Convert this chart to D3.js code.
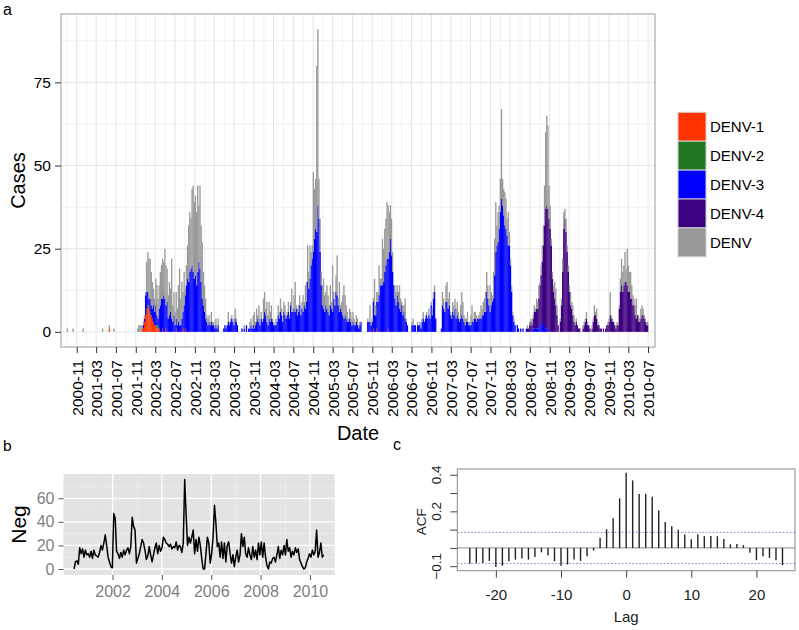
<!DOCTYPE html>
<html>
<head>
<meta charset="utf-8">
<script src="https://cdn.jsdelivr.net/npm/d3@7"></script>
<style>
  body { margin: 0; background: #fff; }
  svg { display: block; }
</style>
</head>
<body>
<div id="chart"></div>
<script>
// ---- panel a: weekly dengue cases by serotype ----
const firstWeek = "2000-09-04";
const totalCases = [
  1,0,0,0,0,1,0,0,0,0,  0,0,0,0,1,0,0,0,0,0,  0,0,0,0,0,0,0,0,0,0,  0,1,0,0,0,0,0,2,0,0,
  0,1,0,0,0,0,0,0,0,0,  0,0,0,0,0,0,0,0,0,0,  0,0,1,2,2,2,2,3,5,12,  21,24,22,22,18,15,13,10,16,14,
  10,14,18,20,22,21,25,20,19,11,  15,13,22,8,12,6,12,7,14,19,  10,15,12,18,13,20,26,32,36,34,
  43,44,39,41,36,44,38,44,32,27,  18,14,10,5,4,5,3,6,3,3,  2,4,2,4,0,0,0,0,1,2,
  1,2,6,3,4,5,3,4,7,4,  2,0,0,0,1,0,2,0,2,0,  1,3,4,2,5,6,3,7,5,8,  4,6,3,10,12,7,9,5,9,6,
  8,4,3,2,4,3,8,6,10,7,  4,9,8,5,6,9,5,9,13,7,  11,15,8,7,8,11,6,9,11,9,  14,15,26,18,26,24,26,48,43,46,
  80,91,46,34,18,14,16,11,12,14,  11,8,14,9,20,12,9,17,23,10,  15,8,9,11,14,11,8,6,4,7,  6,4,6,4,3,5,4,2,3,3,
  0,0,0,0,0,4,3,8,3,4,  10,16,8,12,12,20,16,16,28,25,  31,34,39,38,36,38,34,24,14,14,  12,14,12,14,10,9,8,8,10,4,
  2,0,0,0,3,4,2,2,0,3,  2,3,1,4,6,3,5,6,4,7,  5,9,7,12,14,4,0,0,0,0,  1,12,10,7,14,15,10,12,6,5,
  9,8,10,7,9,6,4,8,12,9,  5,4,4,6,3,3,5,8,4,6,  6,5,4,5,6,8,7,9,10,12,  18,14,10,14,12,11,18,28,39,32,
  36,38,46,67,46,43,42,40,34,36,  30,22,14,6,4,2,0,2,1,0,  1,0,1,0,0,1,2,1,3,4,  2,5,8,7,10,9,14,15,20,26,
  32,44,60,65,62,44,38,28,18,14,  15,13,8,2,0,4,10,22,36,37,  34,26,20,14,12,9,8,5,3,4,  2,1,1,0,0,2,3,4,6,3,
  2,1,0,2,4,8,6,7,3,2,  1,1,0,1,0,1,2,3,4,12,  5,4,3,2,1,3,3,8,16,22,  18,20,24,19,25,20,18,18,14,11,
  10,8,10,5,5,4,7,8,7,5,  4,3,3
];
const denv1Weeks = [37, 66, 67, 68, 69, 70, 71, 72, 73, 74, 75, 76, 77, 78, 79, 80, 81, 84, 87, 96, 102, 104, 270, 273, 283];
const denv1Counts = [1, 1, 1, 3, 5, 7, 8, 7, 5, 5, 4, 3, 2, 2, 1, 1, 1, 1, 1, 1, 1, 1, 1, 1, 1];
const denv2Weeks = [72, 73, 79, 80];
const denv2Counts = [1, 1, 1, 1];
const denv3From = 60;
const denv3Counts = [
  0,0,0,0,0,0,0,1,1,6,  5,4,2,4,3,3,5,4,6,3,  2,6,8,10,9,11,10,7,9,4,  5,6,4,3,5,2,3,2,3,2,
  2,4,5,8,10,14,16,15,18,19,  20,18,16,17,14,18,21,19,15,10,  8,6,4,3,2,3,2,3,2,2,  1,2,1,2,0,0,0,0,1,2,
  1,2,3,2,3,4,3,2,4,3,  2,0,0,0,1,0,1,0,2,0,  1,1,2,1,2,1,2,3,4,3,  2,4,3,4,6,5,3,2,4,3,
  4,3,2,2,2,3,5,4,6,5,  3,6,5,4,5,6,4,8,6,6,  7,6,7,5,6,8,5,7,6,8,  7,9,15,13,16,20,22,24,28,31,
  30,38,34,24,14,8,7,6,8,7,  6,5,8,7,6,10,8,12,11,8,  6,7,6,5,4,5,4,3,3,4,  3,2,3,2,2,3,2,1,2,3,
  0,0,0,0,0,3,3,3,2,3,  8,5,5,8,9,11,14,14,14,15,  18,20,22,21,24,28,23,18,14,10,  8,11,9,7,6,8,5,6,4,3,
  2,0,0,0,2,2,2,2,0,2,  2,2,1,3,4,3,4,5,4,5,  4,8,5,10,12,4,0,0,0,0,  1,8,7,6,9,9,7,8,5,4,
  6,5,7,4,5,4,3,4,5,4,  3,2,3,3,2,2,2,3,3,4,  4,3,4,4,4,4,5,5,6,6,  12,10,8,6,8,9,10,17,24,26,
  27,31,36,40,38,35,32,31,29,26,  26,20,12,5,3,2,0,2,1,0,  1,0,1,0,0,1,0,0,0,1,  0,1,1,2,1,1,1,2,3,2,
  3,2,1,1,0,1
];
const denv4From = 400;
const denv4Counts = [
  0,0,0,0,0,0,1,1,2,2,  2,3,5,4,6,6,9,12,14,19,  23,30,36,37,37,33,31,26,16,12,  10,8,5,2,0,3,8,18,31,34,
  30,24,18,12,8,7,5,3,2,3,  2,1,1,0,0,1,2,3,4,2,  2,1,0,1,3,5,5,4,2,2,  1,1,0,1,0,1,2,2,3,5,
  4,3,3,2,1,2,2,7,12,14,  12,14,15,15,14,12,12,10,10,8,  8,5,4,5,3,3,4,5,5,4,  3,2,2
];
const serotypes = ["DENV-1", "DENV-2", "DENV-3", "DENV-4", "DENV"];
const serotypeColors = ["#FF3300", "#217821", "#0000FF", "#3D0080", "#999999"];
const caseTickLabels = ["2000-11","2001-03","2001-07","2001-11","2002-03","2002-07","2002-11","2003-03",
  "2003-07","2003-11","2004-03","2004-07","2004-11","2005-03","2005-07","2005-11","2006-03","2006-07",
  "2006-11","2007-03","2007-07","2007-11","2008-03","2008-07","2008-11","2009-03","2009-07","2009-11",
  "2010-03","2010-07"];
const caseYTicks = [0, 25, 50, 75];

// ---- panel b: negative tests, every 3 weeks ----
const negStart = "2000-06-10";
const negCounts = [
  0,6,7,4,18,13,17,10,16,12,  13,10,15,9,16,12,11,10,14,20,  16,22,29,20,10,6,2,1,47,43,
  15,13,9,14,10,16,12,16,18,13,  19,44,36,33,5,9,13,19,25,22,  16,8,11,19,12,6,12,18,22,13,
  20,15,18,27,25,22,21,19,21,17,  19,18,23,16,20,19,14,22,76,47,  20,27,22,27,33,13,25,15,27,20,
  9,0,0,13,27,22,5,13,27,54,  39,19,22,10,23,9,22,6,20,23,  13,5,12,2,10,16,6,12,30,19,
  27,13,10,18,12,8,19,10,16,8,  22,12,23,10,22,10,3,0,6,5,  9,10,6,12,19,9,16,12,20,12,
  25,15,18,10,15,12,18,14,17,8,  5,2,0,1,6,9,13,10,16,12,  15,33,10,14,22,10,12
];
const negYTicks = [0, 20, 40, 60];
const negYearLabels = [2002, 2004, 2006, 2008, 2010];

// ---- panel c: cross-correlation ----
const acfValues = [
  -0.085,-0.082,-0.082,-0.071,-0.104,-0.098,-0.073,-0.064,-0.058,-0.064,
  -0.049,-0.024,-0.042,-0.073,-0.098,-0.091,-0.064,-0.071,-0.045,-0.015,
  0.056,0.102,0.162,0.271,0.411,0.369,0.295,0.296,0.28,0.205,
  0.142,0.118,0.1,0.073,0.047,0.075,0.064,0.065,0.064,0.049,
  0.02,0.022,0.015,-0.027,-0.067,-0.045,-0.055,-0.067,-0.095
];
const lags = d3.range(-24, 25);
const acfBound = 0.085;
const acfYTicks = [-0.1, 0, 0.1, 0.2, 0.3, 0.4];
const acfYLabels = [0.4, 0.2, -0.1];
const lagTicks = [-20, -10, 0, 10, 20];

const FONT = '"Liberation Sans", Arial, Helvetica, sans-serif';
const svg = d3.select("#chart").append("svg")
  .attr("width", 799).attr("height", 630)
  .attr("font-family", FONT);

const parseDay = d3.utcParse("%Y-%m-%d");
const parseMonth = d3.utcParse("%Y-%m");

// ================= panel a =================
const week0 = parseDay(firstWeek);
const rows = totalCases.map((total, i) => ({
  date: d3.utcDay.offset(week0, 7 * i),
  "DENV-1": 0,
  "DENV-2": 0,
  "DENV-3": denv3Counts[i - denv3From] || 0,
  "DENV-4": denv4Counts[i - denv4From] || 0,
  total
}));
denv1Weeks.forEach((w, k) => { rows[w]["DENV-1"] = denv1Counts[k]; });
denv2Weeks.forEach((w, k) => { rows[w]["DENV-2"] = denv2Counts[k]; });
rows.forEach(r => {
  r["DENV"] = r.total - r["DENV-1"] - r["DENV-2"] - r["DENV-3"] - r["DENV-4"];
});
const layers = d3.stack().keys(serotypes)(rows);

const a = { left: 61, right: 655, top: 14, bottom: 347 };
const xA = d3.scaleUtc()
  .domain([d3.utcDay.offset(rows[0].date, -39), d3.utcDay.offset(rows[rows.length - 1].date, 46)])
  .range([a.left, a.right]);
const maxCases = d3.max(totalCases);
const yA = d3.scaleLinear().domain([-0.05 * maxCases, 1.05 * maxCases]).range([a.bottom, a.top]);

const majorDates = caseTickLabels.map(parseMonth);
const minorDates = d3.utcMonth.every(2).range(...xA.domain())
  .filter(d => !majorDates.some(m => +m === +d));

const gridA = svg.append("g");
gridA.selectAll(".vmin").data(minorDates).join("line")
  .attr("x1", d => xA(d)).attr("x2", d => xA(d)).attr("y1", a.top).attr("y2", a.bottom)
  .attr("stroke", "#f1f1f1");
gridA.selectAll(".hmin").data(caseYTicks.map(v => v + 12.5)).join("line")
  .attr("x1", a.left).attr("x2", a.right).attr("y1", d => yA(d)).attr("y2", d => yA(d))
  .attr("stroke", "#f1f1f1");
gridA.selectAll(".vmaj").data(majorDates).join("line")
  .attr("x1", d => xA(d)).attr("x2", d => xA(d)).attr("y1", a.top).attr("y2", a.bottom)
  .attr("stroke", "#e5e5e5");
gridA.selectAll(".hmaj").data(caseYTicks).join("line")
  .attr("x1", a.left).attr("x2", a.right).attr("y1", d => yA(d)).attr("y2", d => yA(d))
  .attr("stroke", "#e5e5e5");

const barW = xA(d3.utcDay.offset(week0, 7)) - xA(week0);
svg.append("g").selectAll("g").data(layers).join("g")
  .attr("fill", (d, i) => serotypeColors[i])
  .selectAll("rect").data(d => d.filter(p => p[1] > p[0])).join("rect")
  .attr("x", p => xA(p.data.date) - barW / 2)
  .attr("width", barW + 0.2)
  .attr("y", p => yA(p[1]))
  .attr("height", p => yA(p[0]) - yA(p[1]));

svg.append("rect")
  .attr("x", a.left).attr("y", a.top)
  .attr("width", a.right - a.left).attr("height", a.bottom - a.top)
  .attr("fill", "none").attr("stroke", "#999");

const xAxisA = svg.append("g").attr("transform", `translate(0,${a.bottom})`)
  .call(d3.axisBottom(xA).tickValues(majorDates).tickFormat(d3.utcFormat("%Y-%m")).tickSize(6))
  .attr("font-family", FONT).attr("font-size", 15.5);
xAxisA.select(".domain").remove();
xAxisA.selectAll("line").attr("stroke", "#333");
xAxisA.selectAll("text")
  .attr("transform", "rotate(-90)")
  .attr("x", -13).attr("y", 0).attr("dy", "0.35em")
  .attr("text-anchor", "end").attr("fill", "#000");

const yAxisA = svg.append("g").attr("transform", `translate(${a.left},0)`)
  .call(d3.axisLeft(yA).tickValues(caseYTicks).tickSize(6).tickPadding(4))
  .attr("font-family", FONT).attr("font-size", 15.5);
yAxisA.select(".domain").remove();
yAxisA.selectAll("line").attr("stroke", "#333");
yAxisA.selectAll("text").attr("fill", "#000");

svg.append("text").attr("transform", `translate(25,${(a.top + a.bottom) / 2}) rotate(-90)`)
  .attr("text-anchor", "middle").attr("font-size", 20).text("Cases");
svg.append("text").attr("x", (a.left + a.right) / 2).attr("y", 440)
  .attr("text-anchor", "middle").attr("font-size", 20).text("Date");
svg.append("text").attr("x", 3).attr("y", 14.5).attr("font-size", 16).text("a");

// legend
const keyH = 28.9;
const legend = svg.append("g").attr("transform", "translate(678,112.3)");
legend.selectAll("rect").data(serotypes).join("rect")
  .attr("x", 0).attr("y", (d, i) => i * keyH)
  .attr("width", 28).attr("height", keyH)
  .attr("fill", (d, i) => serotypeColors[i])
  .attr("stroke", "#cfcfcf").attr("stroke-width", 1);
legend.selectAll("text").data(serotypes).join("text")
  .attr("x", 32).attr("y", (d, i) => i * keyH + keyH / 2)
  .attr("dy", "0.36em").attr("font-size", 15).text(d => d);

// ================= panel b =================
const b = { left: 63.5, right: 335, top: 474, bottom: 575 };
const xB = d3.scaleUtc().domain([parseDay("2000-01-06"), parseDay("2011-01-07")]).range([b.left, b.right]);
const yB = d3.scaleLinear().domain([-5.1, 80.6]).range([b.bottom, b.top]);
const negStartDate = parseDay(negStart);
const negSeries = negCounts.map((v, k) => ({ date: d3.utcDay.offset(negStartDate, 21 * k), value: v }));

svg.append("rect").attr("x", b.left).attr("y", b.top)
  .attr("width", b.right - b.left).attr("height", b.bottom - b.top).attr("fill", "#e3e3e3");

const yearsB = d3.utcYear.range(xB.domain()[0], xB.domain()[1]);
const majorYears = negYearLabels.map(y => new Date(Date.UTC(y, 0, 1)));
const minorYears = yearsB.filter(d => !majorYears.some(m => +m === +d));
const gridB = svg.append("g");
gridB.selectAll(".hmin").data(negYTicks.map(v => v + 10)).join("line")
  .attr("x1", b.left).attr("x2", b.right).attr("y1", d => yB(d)).attr("y2", d => yB(d))
  .attr("stroke", "#f0f0f0").attr("stroke-width", 0.6);
gridB.selectAll(".vmin").data(minorYears).join("line")
  .attr("x1", d => xB(d)).attr("x2", d => xB(d)).attr("y1", b.top).attr("y2", b.bottom)
  .attr("stroke", "#f0f0f0").attr("stroke-width", 0.6);
gridB.selectAll(".hmaj").data(negYTicks).join("line")
  .attr("x1", b.left).attr("x2", b.right).attr("y1", d => yB(d)).attr("y2", d => yB(d))
  .attr("stroke", "#fff").attr("stroke-width", 1.3);
gridB.selectAll(".vmaj").data(majorYears).join("line")
  .attr("x1", d => xB(d)).attr("x2", d => xB(d)).attr("y1", b.top).attr("y2", b.bottom)
  .attr("stroke", "#fff").attr("stroke-width", 1.3);

svg.append("path").datum(negSeries)
  .attr("fill", "none").attr("stroke", "#000").attr("stroke-width", 1.5)
  .attr("stroke-linejoin", "round")
  .attr("d", d3.line().x(d => xB(d.date)).y(d => yB(d.value)));

const xAxisB = svg.append("g").attr("transform", `translate(0,${b.bottom})`)
  .call(d3.axisBottom(xB).tickValues(majorYears).tickFormat(d3.utcFormat("%Y")).tickSize(5).tickPadding(6))
  .attr("font-family", FONT).attr("font-size", 16);
xAxisB.select(".domain").remove();
xAxisB.selectAll("line").attr("stroke", "#555");
xAxisB.selectAll("text").attr("fill", "#7f7f7f");

const yAxisB = svg.append("g").attr("transform", `translate(${b.left},0)`)
  .call(d3.axisLeft(yB).tickValues(negYTicks).tickSize(5).tickPadding(4))
  .attr("font-family", FONT).attr("font-size", 16);
yAxisB.select(".domain").remove();
yAxisB.selectAll("line").attr("stroke", "#555");
yAxisB.selectAll("text").attr("fill", "#7f7f7f");

svg.append("text").attr("transform", `translate(26,${(b.top + b.bottom) / 2}) rotate(-90)`)
  .attr("text-anchor", "middle").attr("font-size", 21).text("Neg");
svg.append("text").attr("x", 3).attr("y", 450.5).attr("font-size", 15.5).text("b");

// ================= panel c =================
const c = { left: 457.3, right: 795, top: 469, bottom: 570.7 };
const lagPad = (d3.max(lags) - d3.min(lags)) * 0.04;
const xC = d3.scaleLinear().domain([d3.min(lags) - lagPad, d3.max(lags) + lagPad]).range([c.left, c.right]);
const [acfMin, acfMax] = d3.extent(acfValues);
const acfPad = (acfMax - acfMin) * 0.04;
const yC = d3.scaleLinear().domain([acfMin - acfPad, acfMax + acfPad]).range([c.bottom, c.top]);

svg.append("g").selectAll("line").data([acfBound, -acfBound]).join("line")
  .attr("x1", c.left).attr("x2", c.right).attr("y1", d => yC(d)).attr("y2", d => yC(d))
  .attr("stroke", "#6a6aee").attr("stroke-width", 0.9).attr("stroke-dasharray", "1.5,2");
svg.append("line").attr("x1", c.left).attr("x2", c.right).attr("y1", yC(0)).attr("y2", yC(0))
  .attr("stroke", "#8a8a8a").attr("stroke-width", 1);
svg.append("g").selectAll("line").data(acfValues).join("line")
  .attr("x1", (d, i) => xC(lags[i])).attr("x2", (d, i) => xC(lags[i]))
  .attr("y1", yC(0)).attr("y2", d => yC(d))
  .attr("stroke", "#222").attr("stroke-width", 1.4);
svg.append("rect").attr("x", c.left).attr("y", c.top)
  .attr("width", c.right - c.left).attr("height", c.bottom - c.top)
  .attr("fill", "none").attr("stroke", "#8a8a8a");

const xAxisC = svg.append("g").attr("transform", `translate(0,${c.bottom})`)
  .call(d3.axisBottom(xC).tickValues(lagTicks).tickFormat(d3.format("d")).tickSize(7).tickPadding(22))
  .attr("font-family", FONT).attr("font-size", 15);
xAxisC.select(".domain").remove();
xAxisC.selectAll("line").attr("stroke", "#444");
xAxisC.selectAll("text").attr("fill", "#222").attr("dy", 0).text(d => String(d));

const yAxisC = svg.append("g").attr("transform", `translate(${c.left},0)`)
  .call(d3.axisLeft(yC).tickValues(acfYTicks).tickSize(7).tickFormat(""))
  .attr("font-family", FONT);
yAxisC.select(".domain").remove();
yAxisC.selectAll("line").attr("stroke", "#444");
svg.append("g").selectAll("text").data(acfYLabels).join("text")
  .attr("transform", d => `translate(441,${yC(d)}) rotate(-90)`)
  .attr("text-anchor", "middle").attr("font-size", 13.5).attr("fill", "#222")
  .text(d => d3.format(".1f")(d));

svg.append("text").attr("transform", `translate(426,${(c.top + c.bottom) / 2 + 2}) rotate(-90)`)
  .attr("text-anchor", "middle").attr("font-size", 13.5).attr("fill", "#222").text("ACF");
svg.append("text").attr("x", xC(0)).attr("y", 622)
  .attr("text-anchor", "middle").attr("font-size", 15).attr("fill", "#222").text("Lag");
svg.append("text").attr("x", 393).attr("y", 450).attr("font-size", 16).text("c");
</script>
</body>
</html>
